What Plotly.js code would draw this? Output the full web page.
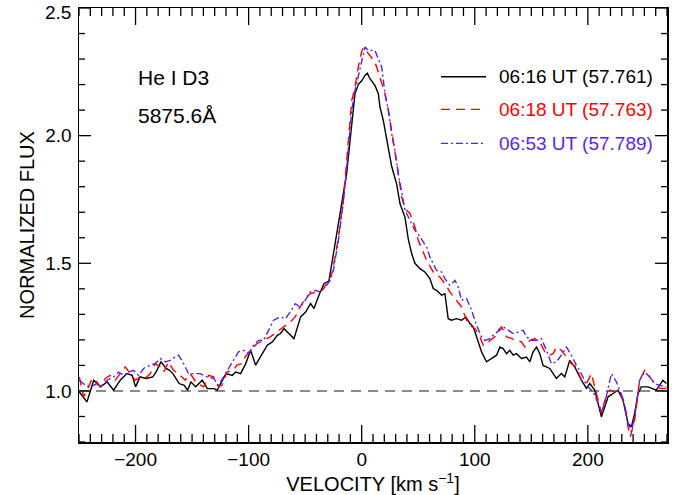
<!DOCTYPE html>
<html>
<head>
<meta charset="utf-8">
<script src="https://cdn.plot.ly/plotly-3.0.1.min.js"></script>
<style>html,body{margin:0;padding:0;background:#fff;}#chart{width:678px;height:495px;}</style>
</head>
<body>
<div id="chart"></div>
<script>
// ---- Data ----
const velBlack = [-249.7,-243,-237,-231,-225,-219.4,-213.5,-207.6,-203,-200,-196,-190.7,-184.8,-181.9,-177.5,-173,-170,-167,-164.3,-161.5,-157,-154,-151,-146.8,-141,-136.5,-130.6,-127.7,-124.8,-120,-114.4,-111.4,-107,-102.6,-98.2,-93.8,-87.9,-83.5,-79,-74.6,-71.7,-68.7,-65.8,-59.9,-54,-49.6,-45.2,-42.2,-37.8,-33.4,-29,-25,-20.6,-16.2,-13.3,-10.3,-7.4,-5.9,-3,0,2.9,5,7.3,11.7,14.7,16.2,19.1,22.1,26.5,30.9,33.9,38.3,41.2,44.2,47.1,51.5,55.9,60.3,63.3,66.2,70.7,73.6,76.5,79.5,83.9,88.3,92.1,95.7,98.6,101.6,106,110.4,114.8,119.3,122.2,125.1,128.1,131,134,136.9,141.3,145.7,148.7,151.6,154.6,157.5,160.4,166.3,172.2,176.6,179.6,184,188.4,194.3,198.8,201.7,206.1,209.1,212,215,217.9,222.3,226.7,231.1,235.5,238.5,241.4,244.4,247.3,253.2,257.6,260.5,266.4,269.4];
const fluxBlack = [0.996,0.957,1.042,1.016,1.035,1.003,1.042,1.068,1.061,1.016,1.055,1.049,1.055,1.074,1.114,1.088,1.081,1.068,1.049,1.029,1.022,1.003,1.035,1.016,1.042,1.009,1.009,1.003,1.029,1.068,1.061,1.074,1.068,1.107,1.159,1.101,1.146,1.179,1.192,1.218,1.225,1.244,1.231,1.205,1.29,1.309,1.342,1.323,1.375,1.42,1.43,1.538,1.642,1.76,1.851,1.98,2.12,2.165,2.2,2.215,2.236,2.245,2.223,2.197,2.164,2.112,2.06,1.982,1.88,1.81,1.733,1.68,1.595,1.538,1.5,1.479,1.466,1.44,1.401,1.394,1.375,1.381,1.283,1.277,1.283,1.277,1.29,1.264,1.251,1.212,1.153,1.114,1.127,1.14,1.172,1.166,1.146,1.159,1.14,1.146,1.127,1.133,1.114,1.153,1.172,1.146,1.1,1.088,1.049,1.068,1.055,1.12,1.094,1.042,1.01,1.029,1.003,0.951,0.899,0.938,0.977,0.99,1.003,0.964,0.873,0.86,0.912,0.99,1.016,1.016,1.01,1.003,1.042,1.029];

const velRed = [-249.7,-246,-241.5,-238.5,-234.1,-231.2,-226.8,-222.4,-218,-213.5,-209.1,-204.7,-200.3,-195.9,-191.4,-187,-182.6,-178.2,-175.2,-170.8,-166.4,-160.5,-156.1,-151.6,-145.7,-139.8,-135.4,-131,-126.6,-123.6,-119.2,-113.3,-110.4,-106,-103,-98.6,-92.7,-86.8,-80.9,-75,-69.1,-63.2,-58.8,-54.4,-49.9,-45.5,-39.6,-35.2,-30.8,-26.4,-23.5,-20.6,-16.2,-13.3,-8.8,-5.9,-3,0,1.5,3.8,5.9,8.8,11.7,14.7,17.7,20.6,23.6,26.5,29.4,32.4,35.3,38.3,42.7,47.1,50,57.4,63.3,69.1,73.6,78,82.5,88.3,92.8,95.7,100.2,104.5,107.5,110.4,113.4,117.8,120.8,123.7,128.1,132.5,136.9,141.3,144.3,148.7,153.1,157.5,161.9,166.3,169.3,172.2,176.6,181,185.4,189.8,194.3,198.8,203.2,206.1,209.1,212,215,219.4,223.8,228.2,232.6,235.5,237.6,241.4,245.8,250.3,254.7,259.1,263.5,269.4];
const fluxRed = [1.055,0.977,1.016,1.049,1.035,1.016,1.049,1.061,1.042,1.068,1.094,1.068,1.042,1.055,1.049,1.068,1.107,1.094,1.074,1.114,1.081,1.061,1.042,1.068,1.029,1.016,1.061,1.055,1.016,1.022,1.074,1.081,1.101,1.107,1.133,1.159,1.185,1.198,1.212,1.231,1.251,1.27,1.29,1.329,1.362,1.381,1.388,1.394,1.42,1.459,1.525,1.6,1.747,1.89,2.138,2.19,2.269,2.33,2.345,2.334,2.321,2.308,2.288,2.249,2.204,2.164,2.099,2.021,1.942,1.851,1.76,1.714,1.695,1.642,1.59,1.512,1.466,1.446,1.42,1.388,1.362,1.329,1.277,1.257,1.244,1.212,1.179,1.185,1.198,1.212,1.238,1.251,1.212,1.205,1.198,1.192,1.172,1.198,1.205,1.192,1.153,1.14,1.146,1.172,1.159,1.133,1.107,1.094,1.042,1.029,1.068,1.016,0.964,0.912,0.964,1.003,0.996,1.003,0.951,0.86,0.821,0.886,1.042,1.081,1.055,1.029,1.01,1.01];

const velBlue = [-249.7,-244.4,-240,-234.1,-229.7,-225.3,-219.4,-215,-210.5,-206.1,-201.7,-197.3,-192.9,-187,-182.6,-178.2,-173.7,-169.3,-164.9,-161.9,-157.5,-153.1,-148.7,-142.8,-136.9,-131,-126.6,-122.1,-117.7,-113.3,-108.9,-104.4,-100,-95.6,-91.2,-86.8,-82.3,-77.9,-72,-67.6,-63.2,-58.8,-54.4,-49.9,-45.5,-41.1,-36.7,-32.3,-27.9,-25,-20.6,-16.2,-13.3,-8.8,-5.9,-1.5,1.5,2.9,5.9,8.8,11.7,14.7,17.7,20.6,23.6,26.5,29.4,32.4,35.3,38.3,42.7,47.1,50.5,54.4,57.4,60.3,66.2,70.7,73.6,78,82.5,85.4,88.3,92.8,97.2,101.6,106,109,113.4,117.8,122.2,125.1,129.6,134,138.4,142.8,145.7,150.1,154.6,159,163.4,167.8,172.2,176.6,181,185.4,189.8,194.3,198.8,204.7,209.1,212,215,217.9,220.8,225.3,228.2,232.6,235.5,238.5,241.4,245.8,250.3,254.7,259.1,263.5,269.4];
const fluxBlue = [1.042,1.022,1.016,1.029,1.022,1.042,1.055,1.074,1.061,1.074,1.081,1.061,1.088,1.101,1.107,1.127,1.114,1.12,1.133,1.14,1.107,1.068,1.068,1.068,1.055,1.049,1.022,1.055,1.088,1.12,1.153,1.159,1.146,1.179,1.198,1.198,1.238,1.277,1.29,1.283,1.309,1.342,1.329,1.355,1.388,1.394,1.388,1.407,1.433,1.473,1.59,1.74,1.87,2.1,2.177,2.269,2.321,2.347,2.334,2.334,2.334,2.3,2.269,2.164,2.099,2.008,1.942,1.851,1.773,1.708,1.668,1.629,1.61,1.585,1.564,1.525,1.472,1.466,1.44,1.414,1.433,1.407,1.355,1.362,1.316,1.257,1.212,1.198,1.205,1.225,1.238,1.251,1.238,1.225,1.231,1.238,1.212,1.198,1.198,1.205,1.159,1.107,1.114,1.14,1.172,1.14,1.101,1.068,1.022,0.996,0.951,0.919,0.951,1.016,1.068,1.035,1.003,0.938,0.873,0.84,0.899,1.042,1.074,1.055,1.029,1.022,1.016];

const seriesNames = ["06:16 UT (57.761)", "06:18 UT (57.763)", "06:53 UT (57.789)"];
const xRange = [-250, 270], yRange = [0.8, 2.5];
const xTickVals = [-200, -100, 0, 100, 200];
const yTickVals = [1.0, 1.5, 2.0];      // "2.5" sits at the frame top and is placed as a label below
const topYLabel = "2.5";
const xMajorStep = 100, xMinorStep = 10;
const yMajorStep = 0.5, yMinorStep = 0.1;
const continuumLevel = 1.0;

// ---- Styles / geometry ----
const FONT = "Liberation Sans, Arial, Helvetica, sans-serif";
const colors = ["#000000", "#ff0000", "#5a1ef0"];
const dashes = ["solid", "9px,6px", "7px,3px,2px,3px"];
const W = 678, H = 495, M = {l: 79, r: 11, t: 8, b: 53};
const plotW = W - M.l - M.r, plotH = H - M.t - M.b;
const X_MAJOR_LEN = 17, X_MINOR_LEN = 8, Y_MAJOR_LEN = 12, Y_MINOR_LEN = 6;

const traces = [
  {x: velBlack, y: fluxBlack, name: seriesNames[0]},
  {x: velRed, y: fluxRed, name: seriesNames[1]},
  {x: velBlue, y: fluxBlue, name: seriesNames[2]}
].map((t, i) => Object.assign(t, {
  type: "scatter", mode: "lines",
  line: {color: colors[i], width: 1.4, dash: dashes[i]},
  showlegend: false, hoverinfo: "skip"
}));

// Inside tick marks on all four sides, built on the axis scale from the tick steps
// (pixel lengths converted to axis units through the plot size)
function isMult(v, step) { return Math.abs(v / step - Math.round(v / step)) < 1e-6; }
const ySpan = yRange[1] - yRange[0], xSpan = xRange[1] - xRange[0];
const tickX = [], tickY = [];
for (let k = Math.ceil(xRange[0] / xMinorStep); k * xMinorStep <= xRange[1] + 1e-9; k++) {
  const v = k * xMinorStep;
  const d = (isMult(v, xMajorStep) ? X_MAJOR_LEN : X_MINOR_LEN) / plotH * ySpan;
  tickX.push(v, v, null, v, v, null);
  tickY.push(yRange[0], yRange[0] + d, null, yRange[1], yRange[1] - d, null);
}
for (let k = Math.ceil(yRange[0] / yMinorStep - 1e-9); k * yMinorStep <= yRange[1] + 1e-9; k++) {
  const v = Math.round(k * yMinorStep * 1000) / 1000;
  const d = (isMult(v, yMajorStep) ? Y_MAJOR_LEN : Y_MINOR_LEN) / plotW * xSpan;
  tickX.push(xRange[0], xRange[0] + d, null, xRange[1], xRange[1] - d, null);
  tickY.push(v, v, null, v, v, null);
}
traces.push({type: "scatter", mode: "lines", x: tickX, y: tickY, connectgaps: false, cliponaxis: false,
  line: {color: "#000", width: 1.3}, showlegend: false, hoverinfo: "skip", name: "ticks"});

const shapes = [
  {type: "line", xref: "paper", x0: 0, x1: 1, yref: "y", y0: continuumLevel, y1: continuumLevel,
   line: {color: "#666666", width: 1.4, dash: "10px,7px"}, layer: "below"}
];

const annotations = [
  {text: "He I D3", xref: "paper", yref: "paper", x: 0.0969, y: 0.841, xanchor: "left", yanchor: "middle",
   showarrow: false, font: {family: FONT, size: 21, color: "#000"}},
  {text: "5875.6Å", xref: "paper", yref: "paper", x: 0.0969, y: 0.752, xanchor: "left", yanchor: "middle",
   showarrow: false, font: {family: FONT, size: 21, color: "#000"}},
  {text: topYLabel, xref: "paper", yref: "paper", x: 0, y: 1, xanchor: "right", yanchor: "middle",
   xshift: -6, yshift: -4, showarrow: false, font: {family: FONT, size: 19, color: "#000"}}
];

// Legend drawn manually (line samples + coloured text)
const legX0 = 0.6156, legX1 = 0.6922, legTextX = 0.7109;
const legY = [0.8416, 0.7664, 0.688];
seriesNames.forEach((n, i) => {
  shapes.push({type: "line", xref: "paper", yref: "paper", x0: legX0, x1: legX1, y0: legY[i], y1: legY[i],
    line: {color: colors[i], width: 1.4, dash: dashes[i]}});
  annotations.push({text: n, xref: "paper", yref: "paper", x: legTextX, y: legY[i], xanchor: "left", yanchor: "middle",
    showarrow: false, font: {family: FONT, size: 19, color: colors[i]}});
});

const layout = {
  width: W, height: H,
  margin: {l: M.l, r: M.r, t: M.t, b: M.b, pad: 0},
  paper_bgcolor: "#fff", plot_bgcolor: "#fff",
  font: {family: FONT, size: 19, color: "#000"},
  showlegend: false,
  xaxis: {
    range: xRange, tickmode: "array", tickvals: xTickVals, ticks: "",
    showline: true, linecolor: "#000", linewidth: 1.5, mirror: true,
    showgrid: false, zeroline: false, fixedrange: true,
    tickfont: {family: FONT, size: 19, color: "#000"},
    title: {text: "VELOCITY [km s<sup>−1</sup>]", font: {family: FONT, size: 20, color: "#000"}, standoff: 6}
  },
  yaxis: {
    range: yRange, tickmode: "array", tickvals: yTickVals, tickformat: ".1f", ticks: "",
    showline: true, linecolor: "#000", linewidth: 1.5, mirror: true,
    showgrid: false, zeroline: false, fixedrange: true,
    tickfont: {family: FONT, size: 19, color: "#000"},
    ticklabelstandoff: 2,
    title: {text: "NORMALIZED FLUX", font: {family: FONT, size: 20, color: "#000"}, standoff: 5}
  },
  shapes: shapes,
  annotations: annotations
};

Plotly.newPlot("chart", traces, layout, {staticPlot: true, displayModeBar: false});
</script>
</body>
</html>
